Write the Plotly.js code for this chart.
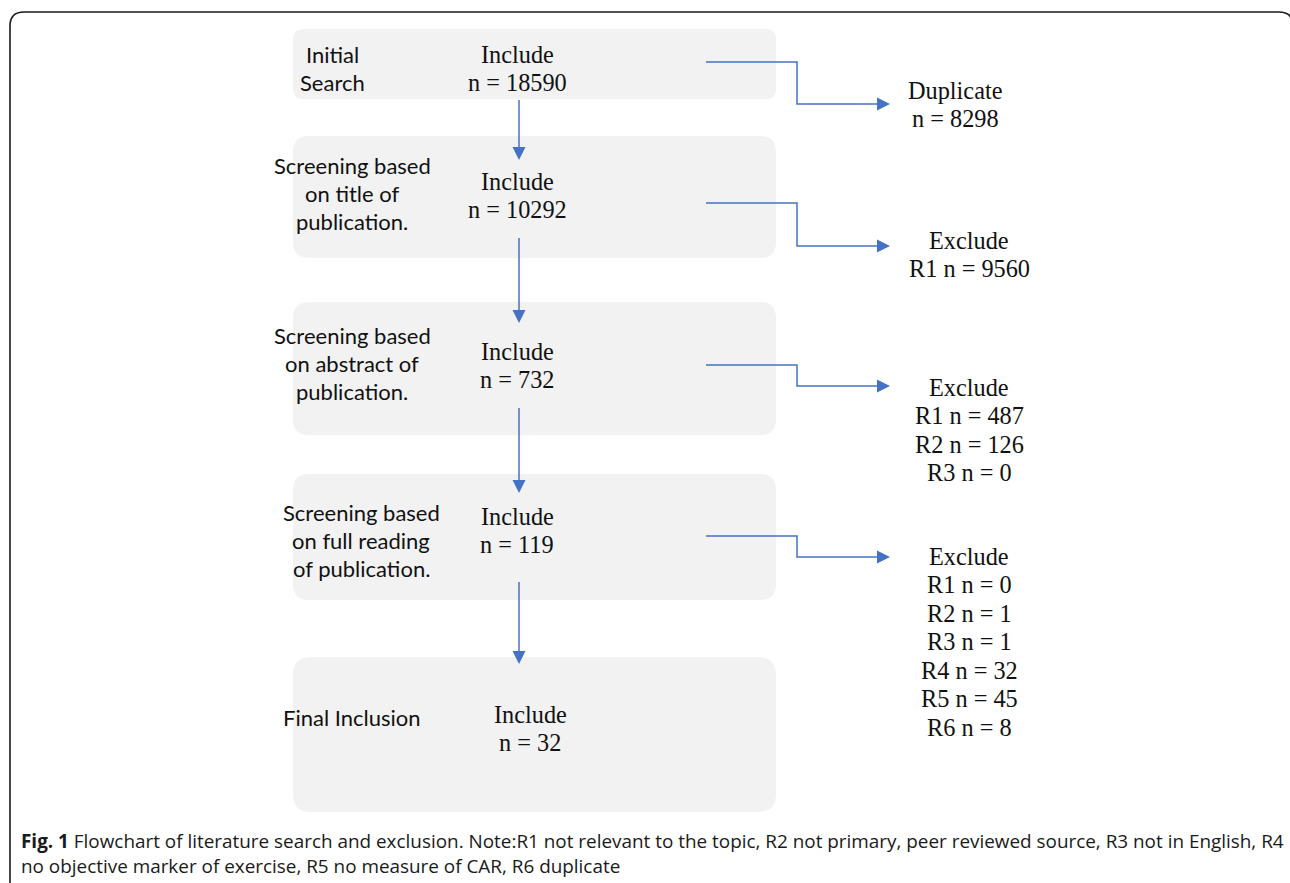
<!DOCTYPE html>
<html>
<head>
<meta charset="utf-8">
<script src="https://cdn.plot.ly/plotly-3.0.1.min.js"></script>
<style>html,body{margin:0;padding:0;background:#fff;}#chart{width:1290px;height:883px;}</style>
</head>
<body>
<div id="chart"></div>
<script>
// ---- data ----
const stageLabels = [
  ["Initial", "Search"],
  ["Screening based", "on title of", "publication."],
  ["Screening based", "on abstract of", "publication."],
  ["Screening based", "on full reading", "of publication."],
  ["Final Inclusion"]
];
const includeCounts = [18590, 10292, 732, 119, 32];
const removalHeads = ["Duplicate", "Exclude", "Exclude", "Exclude"];
const removalReasons = [
  [""],
  ["R1"],
  ["R1", "R2", "R3"],
  ["R1", "R2", "R3", "R4", "R5", "R6"]
];
const removalCounts = [
  [8298],
  [9560],
  [487, 126, 0],
  [0, 1, 1, 32, 45, 8]
];
const captionBold = "Fig. 1";
const captionLines = [
  " Flowchart of literature search and exclusion. Note:R1 not relevant to the topic, R2 not primary, peer reviewed source, R3 not in English, R4",
  "no objective marker of exercise, R5 no measure of CAR, R6 duplicate"
];

// ---- layout geometry ----
const boxes = [
  {y0: 29, y1: 99, r: 10},
  {y0: 136, y1: 258, r: 16},
  {y0: 302, y1: 435, r: 16},
  {y0: 474, y1: 600, r: 16},
  {y0: 657, y1: 812, r: 18}
];
const boxX0 = 293, boxX1 = 776;
const incTextY = [54, 181, 351, 516, 714];
const incTextX = [517, 517, 517, 517, 530];
const labelY = [54, 165, 335, 512, 717];
const labelX = [null, 352, 352, 361, 352];
const vArrow = [[100, 160], [238, 323], [408, 493], [582, 664]];
const vArrowX = 519;
const elbowY = [[62, 104], [203, 246], [365, 386], [536, 557]];
const elbowX0 = 706, elbowX1 = 797, elbowTip = 890;
const remTextX = [955, 969, 969, 969];
const remTextY = [90, 240, 387, 556];
const lineGap = 28.5;
const blue = "#4472C4";

function rrect(x0, y0, x1, y1, r) {
  return `M${x0+r},${y0} L${x1-r},${y0} Q${x1},${y0} ${x1},${y0+r} L${x1},${y1-r} Q${x1},${y1} ${x1-r},${y1} L${x0+r},${y1} Q${x0},${y1} ${x0},${y1-r} L${x0},${y0+r} Q${x0},${y0} ${x0+r},${y0} Z`;
}

const shapes = [];
const annotations = [];

// outer frame
shapes.push({type: "path", path: rrect(10, 12, 1293, 905, 14), line: {color: "#1a1a1a", width: 1.6}, fillcolor: "rgba(0,0,0,0)", layer: "below"});

boxes.forEach(b => {
  shapes.push({type: "path", path: rrect(boxX0, b.y0, boxX1, b.y1, b.r), line: {width: 0}, fillcolor: "#f2f2f2", layer: "below"});
});

const serif = "Liberation Serif, Times New Roman, serif";
const sans = "Lato, Carlito, Calibri, sans-serif";
const serifSize = 24.3;
const sansSize = 22;

function txt(x, y, t, font, size, anchor, color) {
  annotations.push({x: x, y: y, xref: "x", yref: "y", text: t, showarrow: false,
    xanchor: anchor || "center", yanchor: "middle",
    font: {family: font, size: size, color: color || "#111"}});
}

// include texts
includeCounts.forEach((n, i) => {
  txt(incTextX[i], incTextY[i], "Include", serif, serifSize);
  txt(incTextX[i], incTextY[i] + 28, "n = " + n, serif, serifSize);
});

// stage labels
stageLabels.forEach((lines, i) => {
  lines.forEach((l, j) => {
    if (i === 0) {
      txt(j === 0 ? 304 : 298, labelY[i] + j * 28, l, sans, sansSize, "left");
    } else {
      txt(labelX[i], labelY[i] + j * 28.3, l, sans, sansSize, "center");
    }
  });
});

// vertical arrows
vArrow.forEach(a => {
  const tipY = a[1];
  shapes.push({type: "line", x0: vArrowX, x1: vArrowX, y0: a[0], y1: tipY - 10, line: {color: blue, width: 1.5}});
  shapes.push({type: "path", path: `M${vArrowX-6.5},${tipY-13} L${vArrowX+6.5},${tipY-13} L${vArrowX},${tipY} Z`, fillcolor: blue, line: {width: 0}});
});

// elbow arrows + removal texts
elbowY.forEach((e, i) => {
  shapes.push({type: "path", path: `M${elbowX0},${e[0]} L${elbowX1},${e[0]} L${elbowX1},${e[1]} L${elbowTip-10},${e[1]}`, line: {color: blue, width: 1.5}, fillcolor: "rgba(0,0,0,0)"});
  shapes.push({type: "path", path: `M${elbowTip-13},${e[1]-6.5} L${elbowTip-13},${e[1]+6.5} L${elbowTip},${e[1]} Z`, fillcolor: blue, line: {width: 0}});
  txt(remTextX[i], remTextY[i], removalHeads[i], serif, serifSize);
  removalCounts[i].forEach((c, j) => {
    const lab = (removalReasons[i][j] ? removalReasons[i][j] + " " : "") + "n = " + c;
    txt(remTextX[i], remTextY[i] + (j + 1) * lineGap, lab, serif, serifSize);
  });
});

// caption
const capFont = "Open Sans, sans-serif";
const capSize = 18.9;
annotations.push({x: 19, y: 841, xref: "x", yref: "y", showarrow: false, xanchor: "left", yanchor: "middle",
  text: "<b>" + captionBold + "</b>" + captionLines[0], font: {family: capFont, size: capSize, color: "#1a1a1a"}});
annotations.push({x: 19, y: 866, xref: "x", yref: "y", showarrow: false, xanchor: "left", yanchor: "middle",
  text: captionLines[1], font: {family: capFont, size: capSize, color: "#1a1a1a"}});

const layout = {
  width: 1290, height: 883,
  margin: {l: 0, r: 0, t: 0, b: 0},
  paper_bgcolor: "#fff", plot_bgcolor: "#fff",
  xaxis: {range: [0, 1290], visible: false, fixedrange: true},
  yaxis: {range: [883, 0], visible: false, fixedrange: true},
  showlegend: false,
  shapes: shapes,
  annotations: annotations
};

Plotly.newPlot("chart", [{x: [], y: [], type: "scatter"}], layout, {staticPlot: true, displayModeBar: false});
</script>
</body>
</html>
